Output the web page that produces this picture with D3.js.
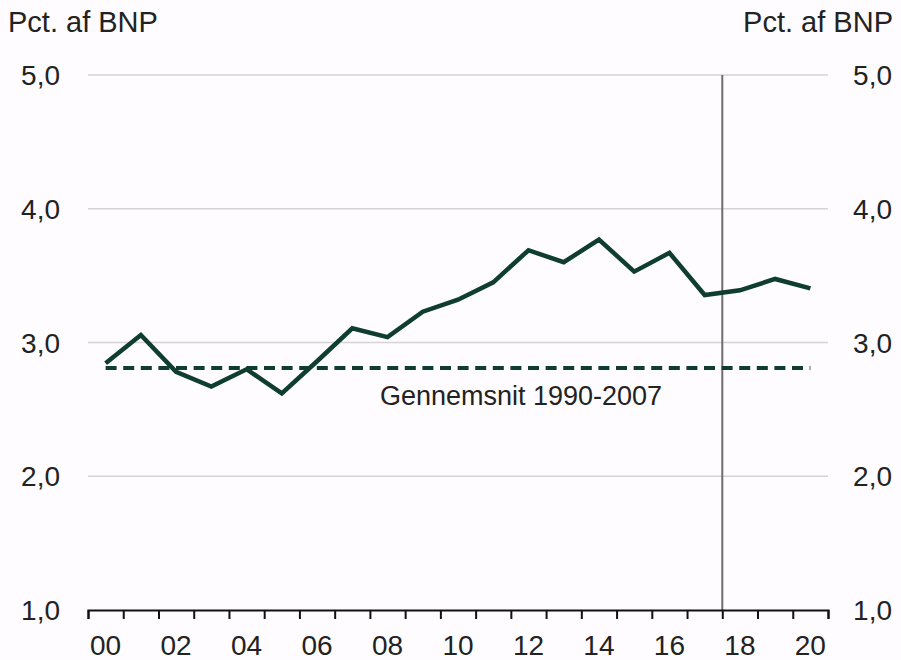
<!DOCTYPE html>
<html>
<head>
<meta charset="utf-8">
<script src="https://cdn.jsdelivr.net/npm/d3@7"></script>
<style>
    body { margin: 0; background: #fefcfe; }
    svg { display: block; }
    text { font-family: "Liberation Sans", Arial, sans-serif; fill: #222; }
</style>
</head>
<body>
<svg id="app"></svg>
<script>
const years = d3.range(2000, 2021);
const values = [2.845, 3.056, 2.78, 2.67, 2.80, 2.62, 2.86, 3.106, 3.04, 3.23, 3.32,
    3.45, 3.69, 3.60, 3.77, 3.53, 3.67, 3.355, 3.39, 3.475, 3.405];
const average = 2.81;
const averageLabel = "Gennemsnit 1990-2007";
const yTicks = [1, 2, 3, 4, 5];
const unitLabel = "Pct. af BNP";
const forecastStart = 2018;

const width = 901, height = 660;
const margin = {left: 88, right: 73, top: 75, bottom: 50};

const svg = d3.select("#app")
    .attr("width", width)
    .attr("height", height);

// years sit in the middle of their interval, ticks on the boundaries
const x = d3.scaleLinear()
    .domain([2000, 2021])
    .range([margin.left, width - margin.right]);

const y = d3.scaleLinear()
    .domain([1, 5])
    .range([height - margin.bottom, margin.top]);

const fmt = d => d3.format(".1f")(d).replace(".", ",");

// gridlines
svg.append("g")
    .selectAll("line")
    .data(yTicks.filter(d => d > 1))
    .join("line")
    .attr("x1", x.range()[0])
    .attr("x2", x.range()[1])
    .attr("y1", d => y(d))
    .attr("y2", d => y(d))
    .attr("stroke", "#d4d4d4")
    .attr("stroke-width", 1.5);

// left and right value labels
svg.append("g")
    .selectAll("text")
    .data(yTicks)
    .join("text")
    .attr("x", 60)
    .attr("y", d => y(d))
    .attr("dy", "0.36em")
    .attr("text-anchor", "end")
    .attr("font-size", 28)
    .text(fmt);

svg.append("g")
    .selectAll("text")
    .data(yTicks)
    .join("text")
    .attr("x", 892)
    .attr("y", d => y(d))
    .attr("dy", "0.36em")
    .attr("text-anchor", "end")
    .attr("font-size", 28)
    .text(fmt);

svg.append("text")
    .attr("x", 8)
    .attr("y", 32)
    .attr("font-size", 29)
    .text(unitLabel);

svg.append("text")
    .attr("x", 893)
    .attr("y", 32)
    .attr("text-anchor", "end")
    .attr("font-size", 29)
    .text(unitLabel);

// forecast divider
svg.append("line")
    .attr("x1", x(forecastStart))
    .attr("x2", x(forecastStart))
    .attr("y1", y(5))
    .attr("y2", y(1))
    .attr("stroke", "#6e6e6e")
    .attr("stroke-width", 2);

// x axis
const xAxis = svg.append("g")
    .attr("transform", `translate(0,${y(1)})`)
    .call(d3.axisBottom(x)
        .tickValues(d3.range(2000, 2022))
        .tickSize(9)
        .tickFormat(""));
xAxis.select(".domain").attr("stroke", "#111").attr("stroke-width", 2);
xAxis.selectAll(".tick line").attr("stroke", "#111").attr("stroke-width", 2);

svg.append("g")
    .selectAll("text")
    .data(years.filter(d => d % 2 === 0))
    .join("text")
    .attr("x", d => x(d + 0.5))
    .attr("y", 655)
    .attr("text-anchor", "middle")
    .attr("font-size", 28)
    .text(d => String(d % 100).padStart(2, "0"));

// average line
svg.append("line")
    .attr("x1", x(years[0] + 0.5))
    .attr("x2", x(years[years.length - 1] + 0.5))
    .attr("y1", y(average))
    .attr("y2", y(average))
    .attr("stroke", "#0f3d30")
    .attr("stroke-width", 4)
    .attr("stroke-dasharray", "11 6.6");

svg.append("text")
    .attr("x", 521)
    .attr("y", 405)
    .attr("text-anchor", "middle")
    .attr("font-size", 27)
    .text(averageLabel);

// main series
const line = d3.line()
    .x((d, i) => x(years[i] + 0.5))
    .y(d => y(d));

svg.append("path")
    .datum(values)
    .attr("d", line)
    .attr("fill", "none")
    .attr("stroke", "#0f3d30")
    .attr("stroke-width", 4.5)
    .attr("stroke-linejoin", "miter");
</script>
</body>
</html>
